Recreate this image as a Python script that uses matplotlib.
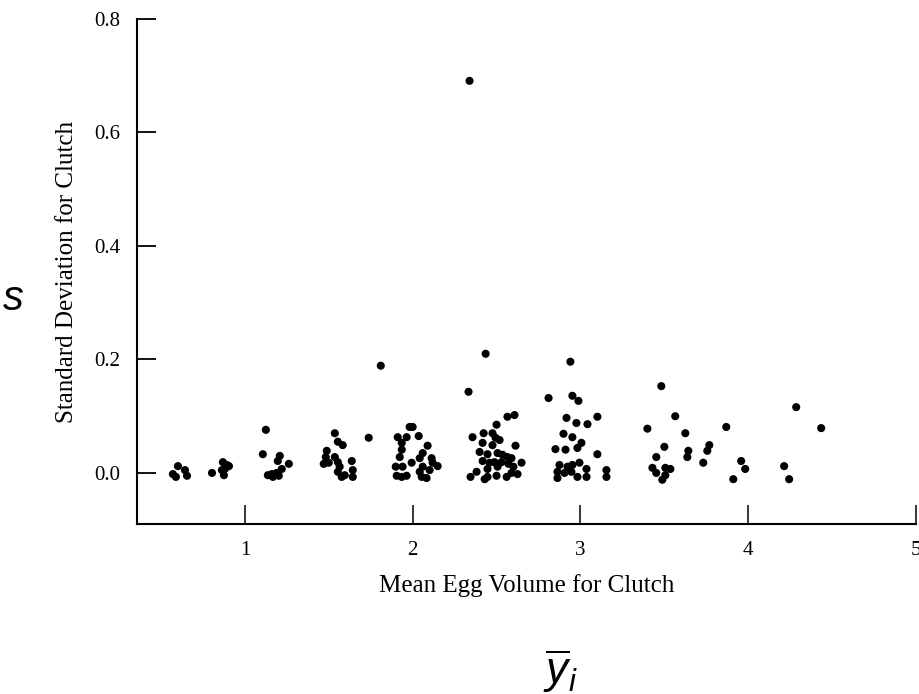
import matplotlib
matplotlib.use("Agg")
import matplotlib.pyplot as plt

# clutch mean egg volume (x) and clutch standard deviation (y)
mean_vol = [
    0.571, 0.601, 0.589, 0.643, 0.655,
    0.804, 0.869, 0.893, 0.905, 0.881, 0.875, 0.863,
    1.125, 1.107, 1.208, 1.196, 1.262, 1.137, 1.167, 1.190, 1.220, 1.202, 1.161,
    1.536, 1.554, 1.583, 1.488, 1.482, 1.470, 1.536, 1.554, 1.565, 1.554,
    1.577, 1.595, 1.637, 1.643, 1.643, 1.500,
    1.738, 1.810,
    1.982, 2.000, 1.911, 1.964, 2.036, 1.935, 1.935, 2.089, 1.923, 2.060,
    2.042, 2.113, 1.994, 1.899, 1.940, 2.119, 2.149, 2.060, 2.042, 1.905,
    1.935, 1.964, 2.054, 2.083, 2.101,
    2.339,
    2.435, 2.333, 2.565, 2.607, 2.500, 2.357, 2.423, 2.476, 2.494, 2.518,
    2.417, 2.476, 2.613, 2.399, 2.446, 2.506, 2.536, 2.565, 2.589, 2.417,
    2.458, 2.488, 2.530, 2.571, 2.649, 2.601, 2.506, 2.381, 2.345, 2.429,
    2.446, 2.500, 2.560, 2.589, 2.625, 2.446,
    2.940, 2.810, 2.952, 2.988, 2.917, 2.976, 3.042, 3.101, 2.899, 2.952,
    3.006, 2.851, 2.911, 2.982, 3.101, 2.875, 2.923, 2.952, 2.994, 3.036,
    2.863, 2.905, 2.946, 2.982, 3.036, 2.863, 3.155, 3.155,
    3.482, 3.565, 3.399, 3.625, 3.500, 3.452, 3.429, 3.452, 3.506, 3.536,
    3.506, 3.488, 3.643, 3.637, 3.768, 3.756, 3.732, 3.869, 3.958, 3.982,
    3.911, 4.214, 4.244, 4.286, 4.435,
]
std_dev = [
    -0.002, 0.012, -0.007, 0.005, -0.005,
    0.000, 0.019, 0.014, 0.012, 0.007, -0.004, 0.005,
    0.076, 0.033, 0.030, 0.021, 0.016, -0.004, -0.007, 0.000, 0.007, -0.005, -0.002,
    0.070, 0.055, 0.049, 0.039, 0.028, 0.016, 0.028, 0.019, 0.011, 0.002,
    -0.007, -0.004, 0.021, 0.005, -0.007, 0.018,
    0.062, 0.189,
    0.081, 0.081, 0.063, 0.063, 0.065, 0.053, 0.041, 0.048, 0.028, 0.035,
    0.026, 0.026, 0.018, 0.011, 0.011, 0.018, 0.012, 0.011, 0.002, -0.005,
    -0.007, -0.005, -0.007, -0.009, 0.005,
    0.691,
    0.210, 0.143, 0.099, 0.102, 0.085, 0.063, 0.070, 0.070, 0.062, 0.058,
    0.053, 0.049, 0.048, 0.037, 0.033, 0.035, 0.032, 0.028, 0.026, 0.021,
    0.018, 0.019, 0.019, 0.016, 0.018, 0.011, 0.011, 0.002, -0.007, -0.011,
    -0.007, -0.005, -0.007, 0.000, -0.002, 0.007,
    0.196, 0.132, 0.136, 0.127, 0.097, 0.088, 0.086, 0.099, 0.069, 0.063,
    0.053, 0.042, 0.041, 0.044, 0.033, 0.014, 0.011, 0.014, 0.018, 0.007,
    0.002, 0.000, 0.002, -0.007, -0.007, -0.009, 0.005, -0.007,
    0.153, 0.100, 0.078, 0.070, 0.046, 0.028, 0.009, 0.000, 0.009, 0.007,
    -0.004, -0.012, 0.039, 0.028, 0.049, 0.039, 0.018, 0.081, 0.021, 0.007,
    -0.011, 0.012, -0.011, 0.116, 0.079,
]

x_ticks = [1, 2, 3, 4, 5]
y_ticks = [0.0, 0.2, 0.4, 0.6, 0.8]
y_tick_labels = ["0.0", "0.2", "0.4", "0.6", "0.8"]

plt.rcParams["font.family"] = ["Liberation Serif", "DejaVu Serif"]
plt.rcParams["mathtext.fontset"] = "custom"
plt.rcParams["mathtext.it"] = "Liberation Sans:italic"
plt.rcParams["mathtext.rm"] = "Liberation Sans"

fig = plt.figure(figsize=(9.2, 6.94), dpi=100)
W, H = 920, 694
ax = fig.add_axes([137 / W, 1 - 524 / H, (916 - 137) / W, (524 - 19) / H])

ax.scatter(mean_vol, std_dev, s=34, c="black", edgecolors="none", zorder=3)

ax.set_xlim(0.357, 5.0)
ax.set_ylim(-0.09, 0.8)
ax.set_xticks(x_ticks)
ax.set_yticks(y_ticks)
ax.set_yticklabels(y_tick_labels)

for side in ("top", "right"):
    ax.spines[side].set_visible(False)
for side in ("left", "bottom"):
    ax.spines[side].set_linewidth(1.5)

ax.tick_params(axis="y", direction="in", length=14, width=1.3, pad=12, labelsize=15)
ax.tick_params(axis="x", direction="in", length=14, width=1.1, pad=12, labelsize=15)

ax.set_xlabel("Mean Egg Volume for Clutch", fontsize=18, labelpad=10)
ax.set_ylabel("Standard Deviation for Clutch", fontsize=18, labelpad=12)

# overlaid symbols from the slide
fig.text(2 / W, 1 - 300 / H, "$s$", fontsize=30, ha="left", va="center")
fig.text(543 / W, 1 - 684 / H, r"$\overline{y}_{i}$", fontsize=32,
         ha="left", va="baseline")

fig.savefig("out.png", dpi=100, facecolor="white")
